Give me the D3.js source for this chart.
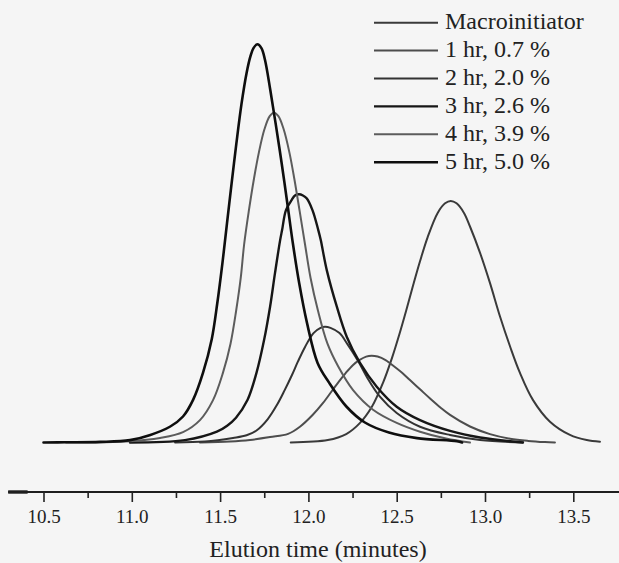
<!DOCTYPE html>
<html>
<head>
<meta charset="utf-8">
<script src="https://cdn.jsdelivr.net/npm/d3@7"></script>
<style>
  html, body { margin: 0; padding: 0; background: #f5f5f5; }
  svg { display: block; }
  text { font-family: "Liberation Serif", "Times New Roman", serif; fill: #222; }
</style>
</head>
<body>
<svg id="chart" width="619" height="563"></svg>
<script>
// GPC traces: elution time (min) vs. detector response (arbitrary units)
const seriesNames = ["Macroinitiator", "1 hr, 0.7 %", "2 hr, 2.0 %", "3 hr, 2.6 %", "4 hr, 3.9 %", "5 hr, 5.0 %"];

const macroinitiator = [
  [11.90, 0], [12.11, 0.6], [12.214, 2.1], [12.291, 4.83], [12.361, 9.06], [12.424, 15.1],
  [12.473, 21.1], [12.516, 27.2], [12.555, 33.2], [12.593, 39.3], [12.632, 45.3], [12.675, 51.3],
  [12.732, 57.4], [12.774, 59.8], [12.806, 60.4], [12.839, 59.8], [12.881, 57.4], [12.915, 54.0],
  [12.972, 47.4], [13.028, 39.9], [13.085, 31.5], [13.142, 24.0], [13.198, 17.4], [13.272, 10.6],
  [13.368, 5.2], [13.481, 1.9], [13.576, 0.6], [13.651, 0.18]
];
const hr1 = [
  [11.386, 0], [11.556, 0.26], [11.669, 0.65], [11.783, 1.37], [11.885, 2.17], [11.952, 3.95],
  [12.025, 6.94], [12.083, 9.9], [12.135, 13.0], [12.179, 15.6], [12.211, 17.36], [12.253, 19.4],
  [12.288, 20.6], [12.327, 21.48], [12.358, 21.7], [12.392, 21.48], [12.437, 20.6], [12.462, 19.8],
  [12.532, 17.36], [12.575, 15.6], [12.632, 13.3], [12.689, 11.0], [12.749, 8.7], [12.802, 6.9],
  [12.915, 4.0], [13.028, 2.1], [13.142, 0.95], [13.244, 0.4], [13.34, 0.1], [13.396, 0]
];
const hr2 = [
  [11.245, 0], [11.414, 0.23], [11.573, 1.13], [11.65, 1.8], [11.706, 3.0], [11.769, 5.8],
  [11.824, 9.55], [11.865, 13.03], [11.907, 16.88], [11.941, 20.27], [11.981, 23.9], [12.029, 27.36],
  [12.069, 28.66], [12.094, 28.95], [12.125, 28.66], [12.176, 27.36], [12.221, 24.6], [12.283, 20.27],
  [12.33, 16.45], [12.405, 11.46], [12.50, 7.38], [12.632, 3.94], [12.802, 1.88], [12.972, 0.64],
  [13.215, 0]
];
const hr3 = [
  [10.99, 0], [11.301, 0.6], [11.482, 2.7], [11.54, 4.2], [11.59, 6.2], [11.655, 10.6],
  [11.706, 17.4], [11.749, 25.6], [11.783, 33.95], [11.811, 42.4], [11.84, 50.6], [11.851, 53.1],
  [11.873, 58.1], [11.905, 60.6], [11.924, 61.75], [11.947, 62.05], [11.969, 61.75], [11.99, 61.05],
  [12.023, 58.1], [12.056, 53.1], [12.07, 50.6], [12.104, 43.1], [12.161, 33.95], [12.217, 26.45],
  [12.292, 19.9], [12.387, 13.95], [12.50, 8.95], [12.632, 5.6], [12.802, 2.9], [12.972, 1.25],
  [13.215, 0]
];
const hr4 = [
  [10.627, 0], [10.99, 0.33], [11.16, 1.15], [11.29, 2.6], [11.386, 5.6], [11.46, 10.6],
  [11.516, 17.4], [11.559, 24.7], [11.591, 33.0], [11.617, 41.2], [11.636, 49.5], [11.662, 57.7],
  [11.692, 66.0], [11.72, 72.6], [11.751, 78.3], [11.781, 81.6], [11.805, 82.45], [11.83, 81.6],
  [11.86, 78.3], [11.892, 72.6], [11.92, 66.0], [11.951, 57.7], [11.981, 49.5], [12.012, 41.2],
  [12.054, 33.0], [12.108, 24.7], [12.169, 19.0], [12.253, 13.1], [12.366, 8.2], [12.50, 4.9],
  [12.632, 2.7], [12.779, 1.0], [12.915, 0]
];
const hr5 = [
  [10.50, 0], [10.627, 0.05], [10.82, 0.15], [10.99, 0.6], [11.105, 1.9], [11.218, 4.0],
  [11.29, 6.5], [11.347, 10.65], [11.403, 17.4], [11.453, 25.9], [11.484, 34.8], [11.513, 44.8],
  [11.539, 54.8], [11.565, 64.7], [11.592, 74.7], [11.621, 84.6], [11.65, 92.4], [11.672, 96.6],
  [11.689, 98.6], [11.711, 99.55], [11.734, 98.6], [11.754, 95.7], [11.784, 88.2], [11.815, 79.6],
  [11.849, 69.7], [11.881, 59.7], [11.912, 49.8], [11.948, 39.8], [11.992, 29.9], [12.052, 19.9],
  [12.118, 14.9], [12.215, 9.0], [12.32, 5.0], [12.456, 2.5], [12.615, 1.1], [12.841, 0.3], [12.87, 0]
];

const seriesData = [macroinitiator, hr1, hr2, hr3, hr4, hr5];
const seriesColors = ["#3a3a3a", "#4d4d4d", "#333333", "#161616", "#5c5c5c", "#0e0e0e"];
const seriesWidths = [2, 2, 2, 2.4, 2, 2.6];

const majorTicks = [10.5, 11.0, 11.5, 12.0, 12.5, 13.0, 13.5];
const minorTicks = [10.75, 11.25, 11.75, 12.25, 12.75, 13.25];
const axisTitle = "Elution time (minutes)";

const svg = d3.select("#chart");

const x = d3.scaleLinear().domain([10.5, 13.5]).range([43.5, 573.3]);
const y = d3.scaleLinear().domain([0, 100]).range([442.5, 42.5]);

// traces
const line = d3.line()
  .x(d => x(d[0]))
  .y(d => y(d[1]))
  .curve(d3.curveCatmullRom.alpha(0.5));

svg.append("g")
  .selectAll("path")
  .data(seriesData)
  .join("path")
  .attr("d", d => line(d))
  .attr("fill", "none")
  .attr("stroke", (d, i) => seriesColors[i])
  .attr("stroke-width", (d, i) => seriesWidths[i])
  .attr("stroke-linejoin", "round")
  .attr("stroke-linecap", "round");

// x axis
const axisY = 492;
const axisG = svg.append("g").attr("transform", `translate(0,${axisY})`);

axisG.append("line")
  .attr("x1", x(10.3)).attr("x2", x(13.78))
  .attr("stroke", "#1e1e1e").attr("stroke-width", 2.2);
axisG.append("line")
  .attr("x1", x(10.3)).attr("x2", x(10.41))
  .attr("stroke", "#1e1e1e").attr("stroke-width", 3.4);

const majorAxis = d3.axisBottom(x)
  .tickValues(majorTicks)
  .tickSize(10)
  .tickPadding(8)
  .tickFormat(d3.format(".1f"));
const gMajor = axisG.append("g").call(majorAxis);
gMajor.select(".domain").remove();
gMajor.selectAll(".tick line").attr("stroke", "#222").attr("stroke-width", 1.6);
gMajor.selectAll(".tick text")
  .attr("fill", "#222")
  .style("font-family", "'Liberation Serif', serif")
  .style("font-size", "19px");

const minorAxis = d3.axisBottom(x)
  .tickValues(minorTicks)
  .tickSize(6)
  .tickFormat("");
const gMinor = axisG.append("g").call(minorAxis);
gMinor.select(".domain").remove();
gMinor.selectAll(".tick line").attr("stroke", "#222").attr("stroke-width", 1.6);

svg.append("text")
  .attr("x", 318)
  .attr("y", 557)
  .attr("text-anchor", "middle")
  .style("font-size", "24px")
  .text(axisTitle);

// legend
const legend = svg.append("g");
const legendRow = legend.selectAll("g")
  .data(seriesNames)
  .join("g")
  .attr("transform", (d, i) => `translate(0,${22.7 + i * 27.9})`);

legendRow.append("line")
  .attr("x1", 374).attr("x2", 438)
  .attr("stroke", (d, i) => seriesColors[i])
  .attr("stroke-width", (d, i) => seriesWidths[i]);

legendRow.append("text")
  .attr("x", 445)
  .attr("y", 6.5)
  .style("font-size", "24px")
  .text(d => d);
</script>
</body>
</html>
